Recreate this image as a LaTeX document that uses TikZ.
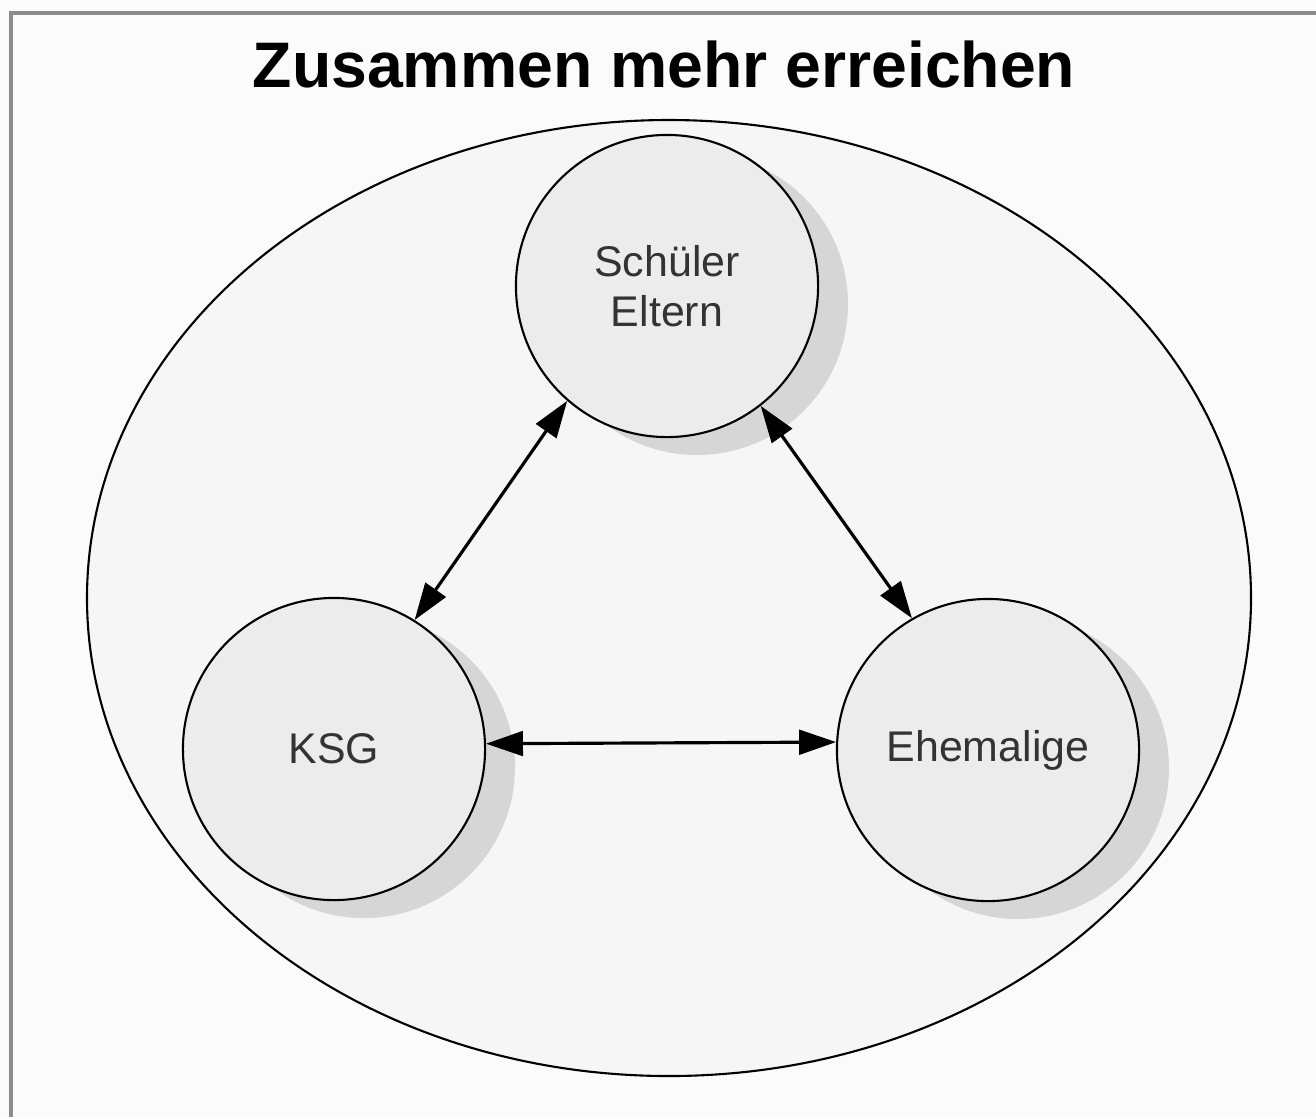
\documentclass[tikz,border=0pt]{standalone}
\usepackage{fontspec}
\setmainfont{Liberation Sans}
\usetikzlibrary{arrows.meta}
\definecolor{pagebg}{HTML}{FBFBFB}
\definecolor{framegray}{HTML}{8C8C8C}
\definecolor{ellfill}{HTML}{F6F6F6}
\definecolor{circfill}{HTML}{ECECEC}
\definecolor{shadowgray}{HTML}{D6D6D6}
\definecolor{textgray}{HTML}{333333}
\tikzset{
  party/.style={circle, draw=black, line width=0.6pt, fill=circfill, minimum size=302*0.2845pt, inner sep=0pt, align=center, text=textgray, font=\fontsize{12.2}{14.2}\selectfont},
  shade/.style={fill=shadowgray, draw=none},
  link/.style={line width=0.9pt, {Triangle[length=10.5pt,width=7pt]}-{Triangle[length=10.5pt,width=7pt]}},
}
\begin{document}
\begin{tikzpicture}[x=0.01cm,y=-0.01cm]
\useasboundingbox (0,0) rectangle (1316,1117);
\fill[pagebg] (0,0) rectangle (1316,1117);
\fill[framegray] (9,11) rectangle (1316,15);
\fill[framegray] (9,11) rectangle (13,1117);
\node[font=\bfseries\fontsize{18.3}{22}\selectfont] (title) at (664,64) {Zusammen mehr erreichen};
\draw[fill=ellfill, line width=0.6pt] (669,598) ellipse [x radius=582, y radius=478];
% shadows
\fill[shade] (697,304) circle [radius=151];
\fill[shade] (364,767) circle [radius=151];
\fill[shade] (1018,768) circle [radius=151];
\node[party] (se) at (667,286) {Schüler\\Eltern};
\node[party] (ksg) at (334,749) {KSG};
\node[party] (ehe) at (988,750) {Ehemalige};
\draw[link] (se.229.8) -- (ksg.58.3);
\draw[link] (se.308) -- (ehe.120.6);
\draw[link] (ksg.2.3) -- (ehe.177.7);
\end{tikzpicture}
\end{document}
